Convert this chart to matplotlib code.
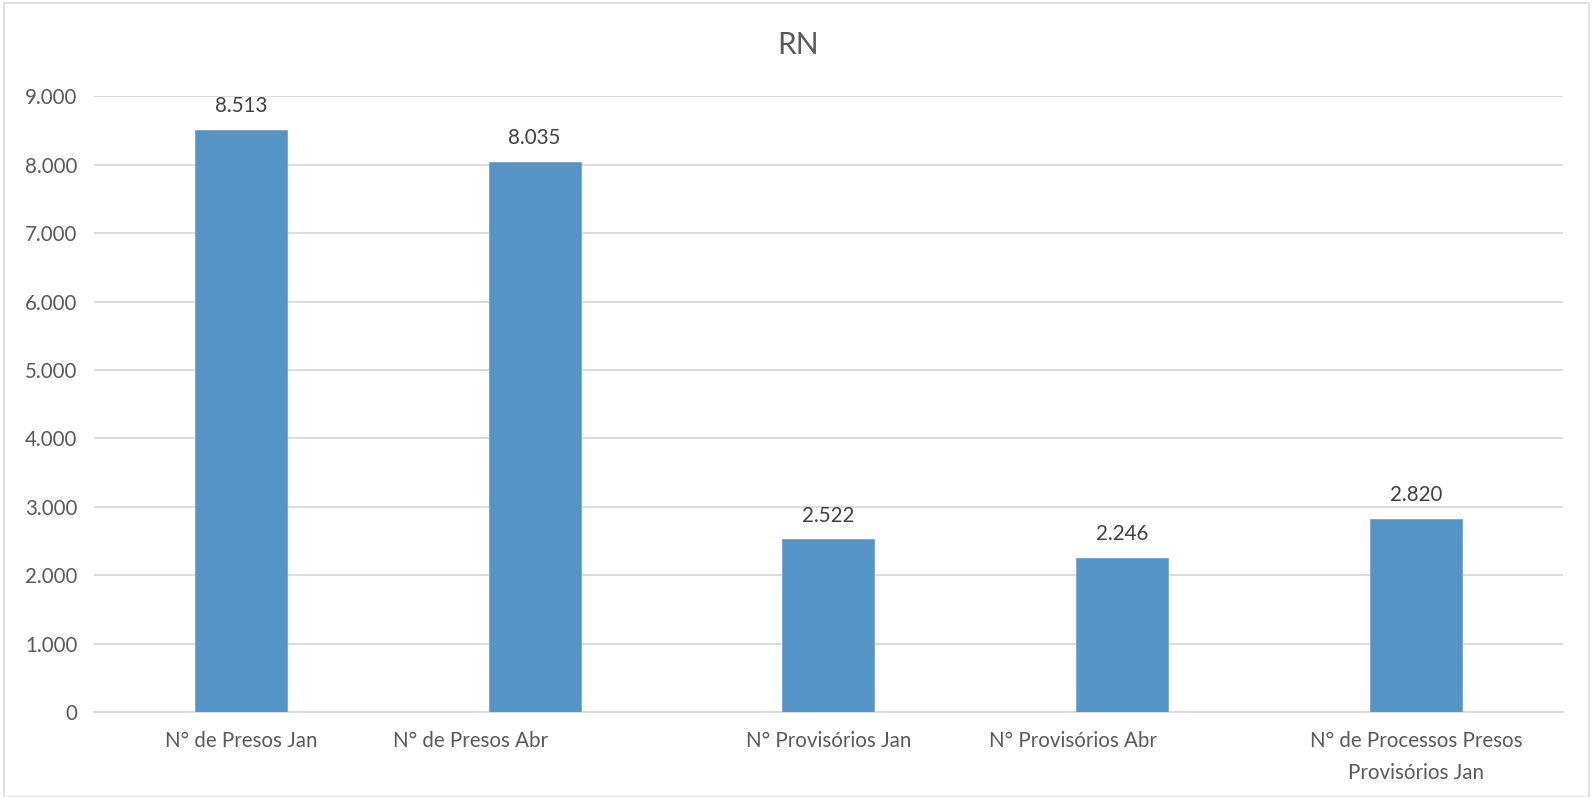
import matplotlib
matplotlib.use("Agg")
import matplotlib.pyplot as plt
from matplotlib.patches import Rectangle
from matplotlib.ticker import FuncFormatter
from matplotlib.transforms import ScaledTranslation

categories = ["N° de Presos Jan", "N° de Presos Abr", "N° Provisórios Jan",
              "N° Provisórios Abr", "N° de Processos Presos\nProvisórios Jan"]
values = [8513, 8035, 2522, 2246, 2820]
yticks = [0, 1000, 2000, 3000, 4000, 5000, 6000, 7000, 8000, 9000]
title = "RN"

plt.rcParams['font.family'] = ['Lato', 'DejaVu Sans']
gray = "#595959"

fig = plt.figure(figsize=(15.92, 7.97), dpi=100)
fig.patches.append(Rectangle((4/1592, 0.0), 1585/1592, 1 - 3/797, transform=fig.transFigure,
                             fill=False, edgecolor="#d9d9d9", linewidth=1.2))
ax = fig.add_axes([94/1592, 1 - 712/797, (1562.7 - 94)/1592, (712 - 96.3)/797])

def fmt(v, pos=None):
    return f"{int(v):,}".replace(",", ".")

x = list(range(len(categories)))
bars = ax.bar(x, values, width=0.313, color="#5494c7", edgecolor="#6ea6d4", linewidth=0.6, zorder=3)
ax.set_xlim(-0.5, len(categories) - 0.5)
ax.set_ylim(0, 9000)
ax.set_yticks(yticks)
ax.yaxis.set_major_formatter(FuncFormatter(fmt))
ax.set_xticks(x)
ax.set_xticklabels(categories, fontsize=14.8, color=gray, linespacing=1.73)
ax.tick_params(axis='y', labelsize=14.8, colors=gray, length=0, pad=12)
ax.tick_params(axis='x', length=0, pad=14, colors=gray)
ax.grid(axis='y', color="#d9d9d9", linewidth=1.3, zorder=0)
for s in ["top", "right", "left"]:
    ax.spines[s].set_visible(False)
ax.spines["bottom"].set_color("#d9d9d9")
ax.spines["bottom"].set_linewidth(1.3)

# Excel-like label placement quirk: some labels shifted left
label_shift_px = [0, -64, 0, -49, 0]
for lbl, dx in zip(ax.get_xticklabels(), label_shift_px):
    if dx:
        lbl.set_transform(lbl.get_transform() + ScaledTranslation(dx / 100, 0, fig.dpi_scale_trans))

for xi, v in zip(x, values):
    ax.annotate(fmt(v), (xi, v), xytext=(0, 10), textcoords="offset points",
                ha="center", va="bottom", fontsize=14.8, color="#404040")

fig.text(797.7 / 1592, 1 - 45/797, title, ha="center", va="center",
         fontsize=21.5, color=gray)

fig.savefig("out.png", dpi=100)
